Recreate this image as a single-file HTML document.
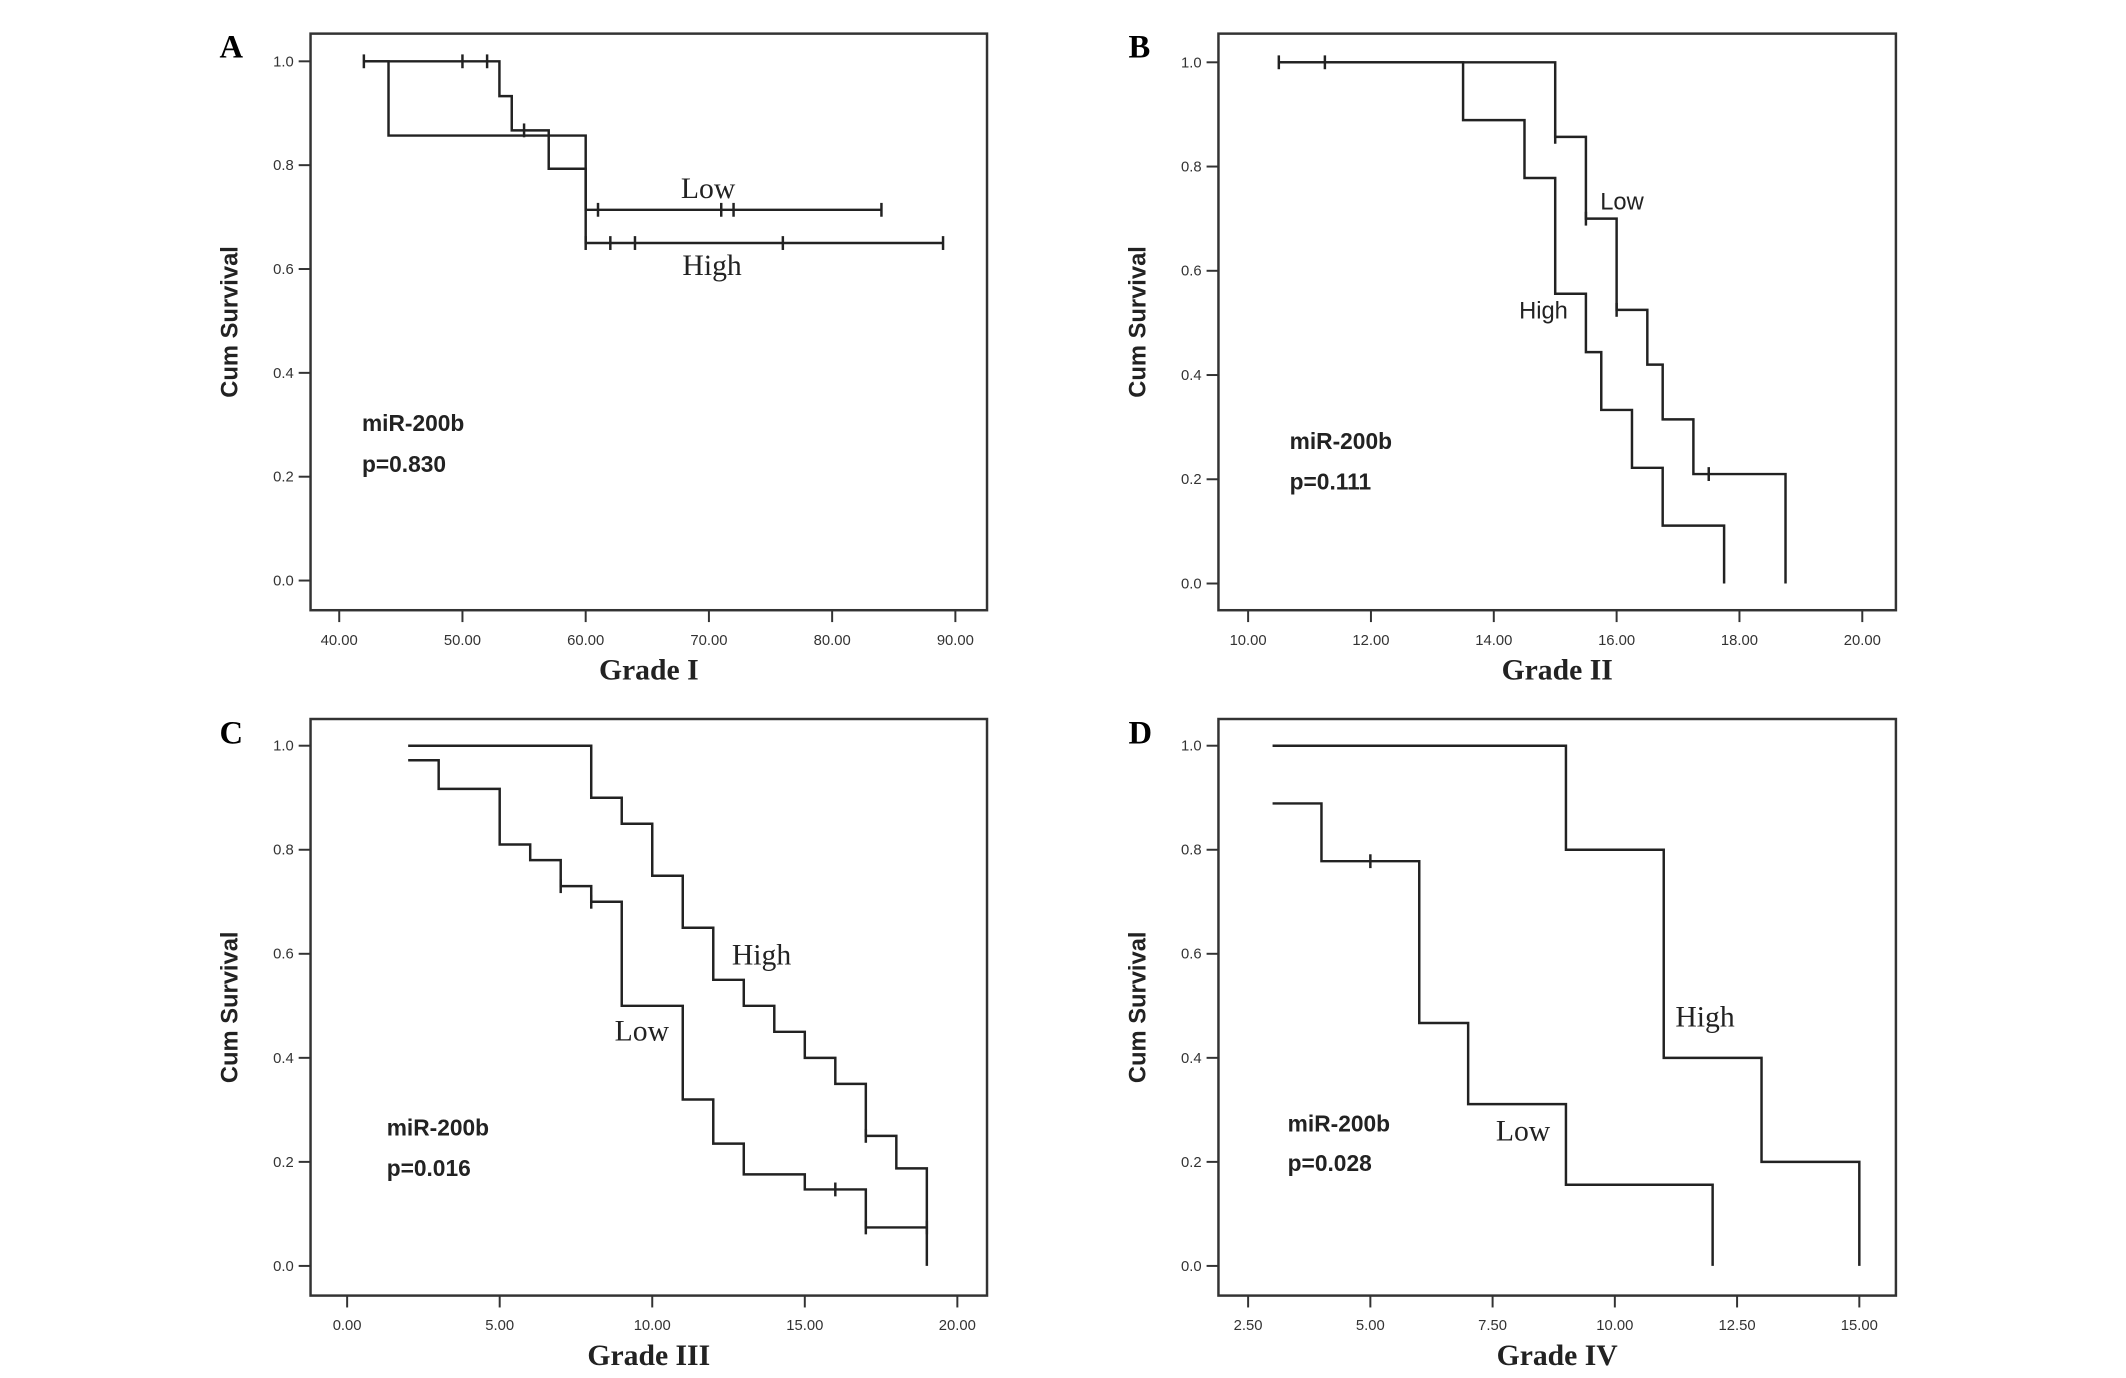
<!DOCTYPE html>
<html><head><meta charset="utf-8"><style>
html,body{margin:0;padding:0;background:#fff;}
svg{display:block;}
</style></head><body>
<svg width="2126" height="1378" xmlns="http://www.w3.org/2000/svg"><g id="fig" transform="scale(0.989)"></g></svg>
<script>
// ---- Data ----
const panelLetters = ["A","B","C","D"];
const panelTitles = ["Grade I","Grade II","Grade III","Grade IV"];
const pValues = ["p=0.830","p=0.111","p=0.016","p=0.028"];
const xTicksA = [40,50,60,70,80,90];
const xTicksB = [10,12,14,16,18,20];
const xTicksC = [0,5,10,15,20];
const xTicksD = [2.5,5,7.5,10,12.5,15];
const yTicks = [0,0.2,0.4,0.6,0.8,1.0];

// A
const aLowStart = [42,1.0], aLowTimes = [53,54,57,60], aLowSurv = [0.933,0.867,0.793,0.714], aLowEnd = 84, aLowCens = [42,50,52,55,61,71,72,84];
const aHighStart = [42,1.0], aHighTimes = [44,60], aHighSurv = [0.857,0.65], aHighEnd = 89, aHighCens = [60,62,64,76,89];
// B
const bLowStart = [10.5,1.0], bLowTimes = [15,15.5,16,16.5,16.75,17.25,18.75], bLowSurv = [0.857,0.70,0.525,0.42,0.315,0.21,0], bLowEnd = 18.75, bLowCens = [10.5,11.25,15,15.5,16,17.5];
const bHighStart = [10.5,1.0], bHighTimes = [13.5,14.5,15,15.5,15.75,16.25,16.75,17.75], bHighSurv = [0.889,0.778,0.556,0.444,0.333,0.222,0.111,0], bHighEnd = 17.75, bHighCens = [];
// C
const cHighStart = [2,1.0], cHighTimes = [8,9,10,11,12,13,14,15,16,17,18,19], cHighSurv = [0.9,0.85,0.75,0.65,0.55,0.5,0.45,0.4,0.35,0.25,0.1875,0], cHighEnd = 19, cHighCens = [17];
const cLowStart = [2,0.972], cLowTimes = [3,5,6,7,8,9,11,12,13,15,17], cLowSurv = [0.917,0.81,0.78,0.73,0.70,0.50,0.32,0.235,0.176,0.147,0.074], cLowEnd = 19, cLowCens = [7,8,16,17,19];
// D
const dHighStart = [3,1.0], dHighTimes = [9,11,13,15], dHighSurv = [0.8,0.4,0.2,0], dHighEnd = 15, dHighCens = [];
const dLowStart = [3,0.889], dLowTimes = [4,6,7,9,12], dLowSurv = [0.778,0.467,0.311,0.156,0], dLowEnd = 12, dLowCens = [5];

const NS="http://www.w3.org/2000/svg";
const svg=document.getElementById('fig');
function mk(tag,attrs,parent){const e=document.createElementNS(NS,tag);for(const k in attrs)e.setAttribute(k,attrs[k]);(parent||svg).appendChild(e);return e;}

const panels=[
 {box:[314,34,998,617],y1:62,y0:587,xt:xTicksA,xa:[40,343],xb:[90,966],fmt:v=>v.toFixed(2),
  series:[[aLowStart,aLowTimes,aLowSurv,aLowEnd,aLowCens,'low'],[aHighStart,aHighTimes,aHighSurv,aHighEnd,aHighCens,'high']],
  labels:[["Low",716,200,'serif',30,'middle'],["High",720,278,'serif',30,'middle']],mir:[366,436,477],letter:[222,58]},
 {box:[1232,34,1917,617],y1:63,y0:590,xt:xTicksB,xa:[10,1262],xb:[20,1883],fmt:v=>v.toFixed(2),
  series:[[bLowStart,bLowTimes,bLowSurv,bLowEnd,bLowCens,'low'],[bHighStart,bHighTimes,bHighSurv,bHighEnd,bHighCens,'high']],
  labels:[["Low",1618,212,'sans',24,'start'],["High",1536,322,'sans',24,'start']],mir:[1304,454,495],letter:[1141,58]},
 {box:[314,727,998,1310],y1:754,y0:1280,xt:xTicksC,xa:[0,351],xb:[20,968],fmt:v=>v.toFixed(2),
  series:[[cHighStart,cHighTimes,cHighSurv,cHighEnd,cHighCens,'high'],[cLowStart,cLowTimes,cLowSurv,cLowEnd,cLowCens,'low']],
  labels:[["High",770,975,'serif',30,'middle'],["Low",649,1052,'serif',30,'middle']],mir:[391,1148,1189],letter:[222,752]},
 {box:[1232,727,1917,1310],y1:754,y0:1280,xt:xTicksD,xa:[2.5,1262],xb:[15,1880],fmt:v=>v.toFixed(2),
  series:[[dHighStart,dHighTimes,dHighSurv,dHighEnd,dHighCens,'high'],[dLowStart,dLowTimes,dLowSurv,dLowEnd,dLowCens,'low']],
  labels:[["High",1724,1038,'serif',30,'middle'],["Low",1540,1153,'serif',30,'middle']],mir:[1302,1144,1184],letter:[1141,752]}
];

panels.forEach((p,i)=>{
  const g=mk('g',{});
  
  
  const X=v=>p.xa[1]+(v-p.xa[0])*(p.xb[1]-p.xa[1])/(p.xb[0]-p.xa[0]);
  const Y=v=>p.y0+(p.y1-p.y0)*v;
  const [l,t,r,b]=p.box;
  const fr=mk('rect',{x:l,y:t,width:r-l,height:b-t,fill:'none',stroke:'#333','stroke-width':2.5},g);
  
  yTicks.forEach(v=>{
    const tk=mk('line',{x1:l-12,x2:l,y1:Y(v),y2:Y(v),stroke:'#333','stroke-width':2},g);
    
    const tx=mk('text',{x:l-17,y:Y(v)+5,'text-anchor':'end','font-family':'Liberation Sans, sans-serif','font-size':15,fill:'#333'},g);
    tx.textContent=v.toFixed(1);
    
  });
  p.xt.forEach(v=>{
    const tk=mk('line',{x1:X(v),x2:X(v),y1:b,y2:b+12,stroke:'#333','stroke-width':2},g);
    
    const tx=mk('text',{x:X(v),y:b+35,'text-anchor':'middle','font-family':'Liberation Sans, sans-serif','font-size':15,fill:'#333'},g);
    tx.textContent=p.fmt(v);
    
  });
  const yt=mk('text',{x:0,y:0,transform:`translate(${l-74},${(t+b)/2}) rotate(-90)`,'text-anchor':'middle','font-family':'Liberation Sans, sans-serif','font-weight':'bold','font-size':24,fill:'#222'},g);
  yt.textContent='Cum Survival';
  const xt=mk('text',{x:(l+r)/2,y:b+70,'text-anchor':'middle','font-family':'Liberation Serif, serif','font-weight':'bold','font-size':30,fill:'#222'},g);
  xt.textContent=panelTitles[i];
  const lt=mk('text',{x:p.letter[0],y:p.letter[1],'font-family':'Liberation Serif, serif','font-weight':'bold','font-size':33,fill:'#000'},g);
  lt.textContent=panelLetters[i];
  p.series.forEach(s=>{
    const [st,times,surv,end,cens,name]=s;
    let d=`M${X(st[0])},${Y(st[1])}`;
    times.forEach((tm,k)=>{d+=` H${X(tm)} V${Y(surv[k])}`;});
    d+=` H${X(end)}`;
    const pa=mk('path',{d:d,fill:'none',stroke:'#222','stroke-width':2.5},g);
    
    cens.forEach(c=>{
      let v=st[1];times.forEach((tm,k)=>{if(tm<=c)v=surv[k];});
      if(v===0){v=surv[surv.length-2]||st[1];}
      const cm=mk('line',{x1:X(c),x2:X(c),y1:Y(v)-7,y2:Y(v)+7,stroke:'#222','stroke-width':2.5},g);
      
    });
  });
  p.labels.forEach(lb=>{
    const serif=lb[3]==='serif';
    const e=mk('text',{x:lb[1],y:lb[2],'text-anchor':lb[5],'font-family':serif?'Liberation Serif, serif':'Liberation Sans, sans-serif','font-size':lb[4],fill:'#222'},g);
    e.textContent=lb[0];
  });
  const m1=mk('text',{x:p.mir[0],y:p.mir[1],'font-family':'Liberation Sans, sans-serif','font-weight':'bold','font-size':23,fill:'#222'},g);
  m1.textContent='miR-200b';
  const m2=mk('text',{x:p.mir[0],y:p.mir[2],'font-family':'Liberation Sans, sans-serif','font-weight':'bold','font-size':23,fill:'#222'},g);
  m2.textContent=pValues[i];
});
</script>
</body></html>
